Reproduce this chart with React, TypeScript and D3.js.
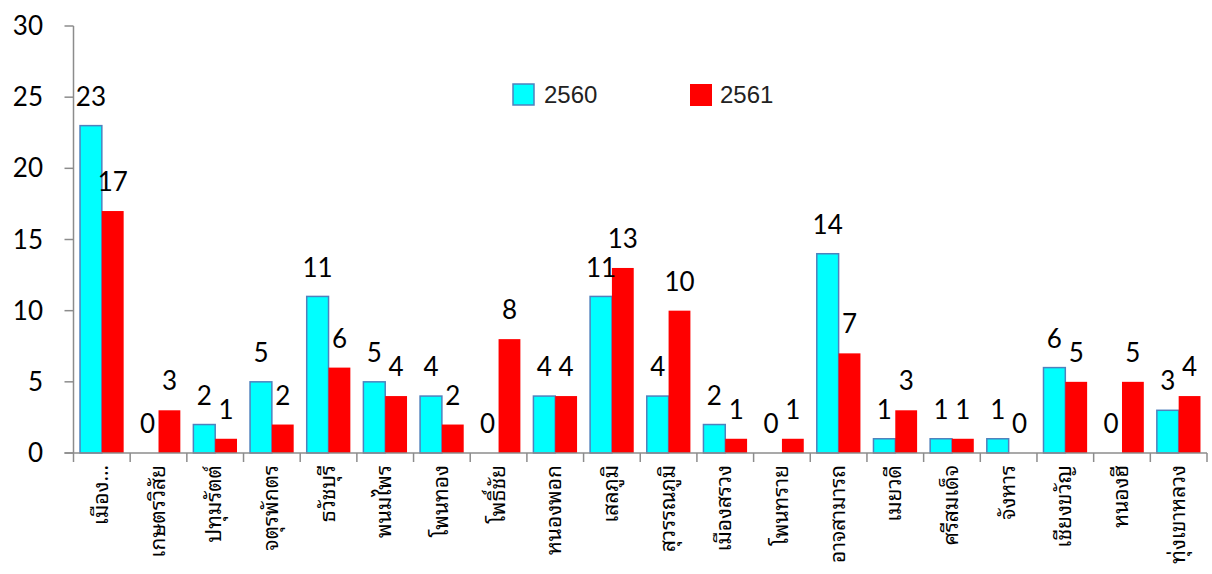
import React from 'react';
import * as d3 from 'd3';

const categories = [
  'เมือง…', 'เกษตรวิสัย', 'ปทุมรัตต์', 'จตุรพักตร', 'ธวัชบุรี', 'พนมไพร', 'โพนทอง',
  'โพธิ์ชัย', 'หนองพอก', 'เสลภูมิ', 'สุวรรณภูมิ', 'เมืองสรวง', 'โพนทราย', 'อาจสามารถ',
  'เมยวดี', 'ศรีสมเด็จ', 'จังหาร', 'เชียงขวัญ', 'หนองฮี', 'ทุ่งเขาหลวง',
];
const series = ['2560', '2561'];
const values2560 = [23, 0, 2, 5, 11, 5, 4, 0, 4, 11, 4, 2, 0, 14, 1, 1, 1, 6, 0, 3];
const values2561 = [17, 3, 1, 2, 6, 4, 2, 8, 4, 13, 10, 1, 1, 7, 3, 1, 0, 5, 5, 4];
const yTicks = [0, 5, 10, 15, 20, 25, 30];

const W = 1212;
const H = 574;
const colors: Record<string, string> = { '2560': '#00ffff', '2561': '#ff0000' };

export default function App() {
  const x = d3.scaleBand<string>().domain(categories).range([73.5, 1207]).padding(0);
  const bw = x.bandwidth();
  const x1 = d3.scaleBand<string>().domain(series).range([bw * 0.115, bw * 0.885]).padding(0);
  const y = d3.scaleLinear().domain([0, 30]).range([453, 26]);

  const rows = categories.map((c, i) => ({ c, v: { '2560': values2560[i], '2561': values2561[i] } as Record<string, number> }));
  const axisColor = '#8c8c8c';
  const numFont = 'Lato, "Open Sans", sans-serif';
  const thaiFont = 'Tahoma, "Noto Sans Thai Looped", "Noto Serif Thai", Loma, Garuda, "Noto Sans Thai", sans-serif';

  return (
    <svg width={W} height={H} style={{ position: 'absolute', left: 0, top: 0, background: '#fff' }}>
      {/* y axis */}
      <line x1={x.range()[0]} x2={x.range()[0]} y1={y(30)} y2={y(0)} stroke={axisColor} strokeWidth={1.5} />
      {yTicks.map(t => (
        <g key={t}>
          <line x1={x.range()[0] - 9} x2={x.range()[0]} y1={y(t)} y2={y(t)} stroke={axisColor} strokeWidth={1.5} />
          <text x={43} y={y(t)} dy="0.35em" textAnchor="end" fontSize={26} fontFamily={numFont} fill="#000">{t}</text>
        </g>
      ))}
      {/* bars */}
      {rows.map(r => (
        <g key={r.c} transform={`translate(${x(r.c)},0)`}>
          {series.map(s => (
            <rect key={s} x={x1(s)} y={y(r.v[s])} width={x1.bandwidth()} height={y(0) - y(r.v[s])}
              fill={colors[s]} stroke={s === '2560' ? '#4f81bd' : 'none'} strokeWidth={1.5} />
          ))}
        </g>
      ))}
      {/* x axis */}
      <line x1={x.range()[0] - 9} x2={x.range()[1]} y1={y(0)} y2={y(0)} stroke={axisColor} strokeWidth={1.5} />
      {categories.map(c => (
        <line key={c} x1={(x(c) as number)} x2={(x(c) as number)} y1={y(0)} y2={y(0) + 9} stroke={axisColor} strokeWidth={1.5} />
      ))}
      <line x1={x.range()[1]} x2={x.range()[1]} y1={y(0)} y2={y(0) + 9} stroke={axisColor} strokeWidth={1.5} />
      {/* value labels */}
      {rows.map(r => series.map(s => (
        <text key={r.c + s} x={(x(r.c) as number) + (x1(s) as number) + x1.bandwidth() / 2} y={y(r.v[s]) - 29}
          dy="0.35em" textAnchor="middle" fontSize={26} fontFamily={numFont} fill="#000">{r.v[s]}</text>
      )))}
      {/* category labels */}
      {categories.map(c => (
        <text key={c} transform={`translate(${(x(c) as number) + bw / 2 + 6},465) rotate(-90)`}
          textAnchor="end" fontSize={21} fontFamily={thaiFont} fill="#000">{c}</text>
      ))}
      {/* legend */}
      <rect x={513} y={84} width={21} height={21} fill={colors['2560']} stroke="#4f81bd" strokeWidth={1.5} />
      <text x={544} y={95} dy="0.35em" fontSize={24} fontFamily='"Liberation Sans", Arial, sans-serif' fill="#222">2560</text>
      <rect x={690} y={84} width={22} height={22} fill={colors['2561']} />
      <text x={720} y={95} dy="0.35em" fontSize={24} fontFamily='"Liberation Sans", Arial, sans-serif' fill="#222">2561</text>
    </svg>
  );
}
